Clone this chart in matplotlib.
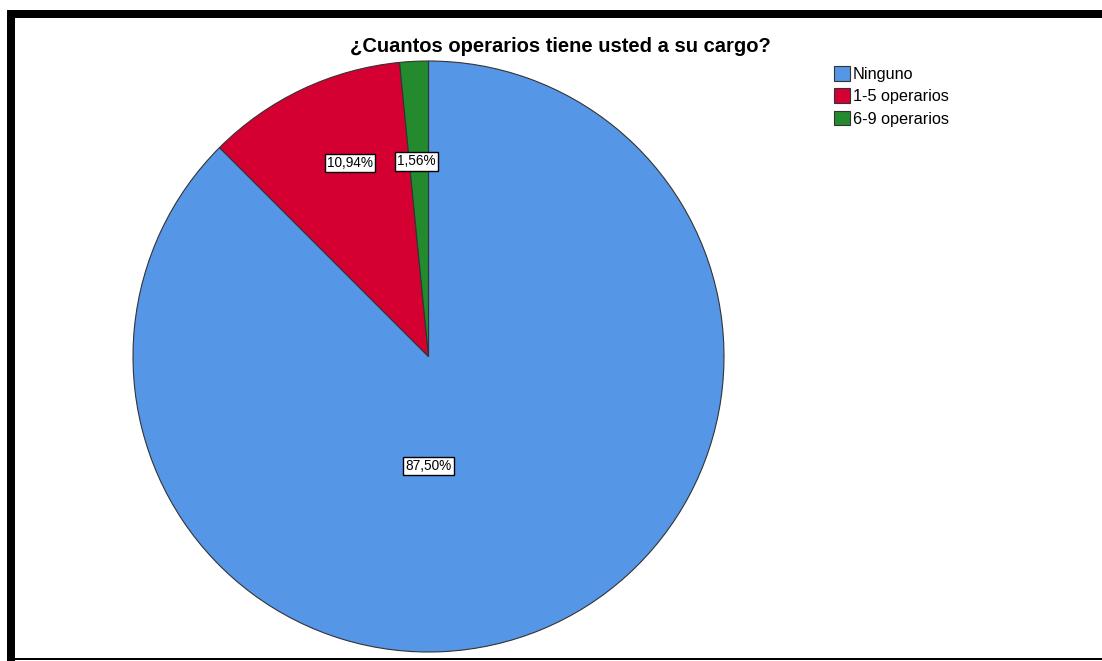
import matplotlib
matplotlib.use("Agg")
import matplotlib.pyplot as plt
from matplotlib.patches import Rectangle

# ── Data ───────────────────────────────────────────────────────────────────────
categories = ["Ninguno", "1-5 operarios", "6-9 operarios"]
percentages = [87.50, 10.94, 1.56]
colors = ["#5596E6", "#D50032", "#248A2E"]
# label positions as fractions of the radius (x, y)
label_pos = [(0.0, -0.37), (-0.265, 0.655), (-0.04, 0.66)]

plt.rcParams['font.family'] = ['Liberation Sans', 'DejaVu Sans']

W, H = 1102, 661
fig = plt.figure(figsize=(W / 100, H / 100), dpi=100)

# ── Frame (thick top/left, thin bottom) ────────────────────────────────────────
def px_rect(x0, y0, x1, y1):
    return Rectangle((x0 / W, 1 - y1 / H), (x1 - x0) / W, (y1 - y0) / H,
                     transform=fig.transFigure, facecolor="black",
                     edgecolor="none")

fig.add_artist(px_rect(7, 10, W, 18))
fig.add_artist(px_rect(7, 10, 15, H))
fig.add_artist(px_rect(15, 658, W, 660))

# ── Pie ────────────────────────────────────────────────────────────────────────
cx, cy, r = 428.5, 356.5, 295.5
ax = fig.add_axes([(cx - r) / W, 1 - (cy + r) / H, 2 * r / W, 2 * r / H])
wedges, _ = ax.pie(percentages, colors=colors, startangle=90, counterclock=False,
                   wedgeprops=dict(edgecolor="#333333", linewidth=0.8))
ax.set_xlim(-1, 1)
ax.set_ylim(-1, 1)
ax.axis("off")

for p, (lx, ly) in zip(percentages, label_pos):
    ax.text(lx, ly, f"{p:.2f}%".replace(".", ","), ha="center", va="center",
            fontsize=9.8, color="black",
            bbox=dict(boxstyle="square,pad=0.15", facecolor="white",
                      edgecolor="black", linewidth=1))

fig.text(560 / W, 1 - 47 / H, "¿Cuantos operarios tiene usted a su cargo?",
         ha="center", va="center", fontsize=14.5, fontweight="bold")

fig.legend(wedges, categories, loc="upper left",
           bbox_to_anchor=(834 / W, 1 - 66 / H), frameon=False,
           fontsize=11.7, handlelength=1.0, handleheight=1.0,
           handletextpad=0.15, labelspacing=0.4, borderaxespad=0,
           borderpad=0)

fig.savefig("out.png", dpi=100)
